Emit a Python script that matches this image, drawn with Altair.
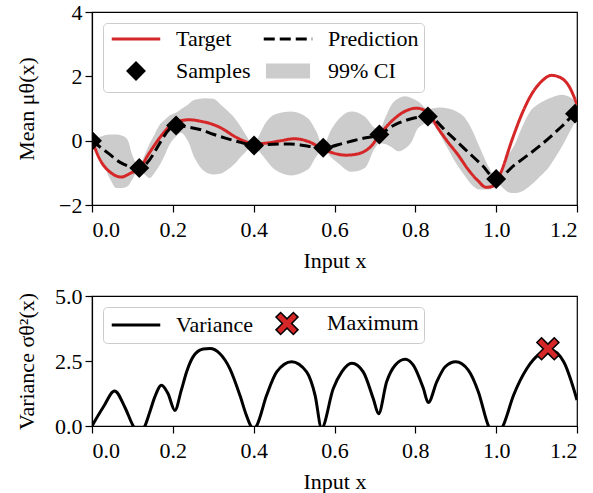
import math
import altair as alt
import pandas as pd

# ---------------- data ----------------
sample_x = [0.0, 0.117, 0.208, 0.401, 0.572, 0.711, 0.831, 1.0, 1.195]
sample_y = [0.0, -0.85, 0.47, -0.15, -0.22, 0.19, 0.75, -1.19, 0.84]

target_x = [0.00, 0.022, 0.047, 0.072, 0.097, 0.117, 0.142, 0.167, 0.192, 0.215,
            0.24, 0.27, 0.30, 0.32, 0.353, 0.378, 0.40, 0.435, 0.468, 0.50,
            0.534, 0.567, 0.596, 0.628, 0.65, 0.69, 0.712, 0.741, 0.774, 0.803,
            0.832, 0.856, 0.881, 0.905, 0.931, 0.956, 0.975, 0.995, 1.013, 1.038,
            1.063, 1.087, 1.112, 1.137, 1.162, 1.183, 1.20]
target_y = [0.00, -0.64, -1.00, -1.13, -1.00, -0.87, -0.38, 0.08, 0.44, 0.60,
            0.65, 0.60, 0.50, 0.39, 0.13, -0.02, -0.10, -0.07, 0.00, 0.06,
            -0.02, -0.23, -0.38, -0.45, -0.43, -0.18, 0.19, 0.60, 0.91, 1.01,
            0.86, 0.39, -0.05, -0.43, -0.90, -1.26, -1.45, -1.40, -0.95, -0.02,
            0.81, 1.43, 1.84, 2.03, 1.94, 1.63, 1.12]

pred_x = [0.0, 0.039, 0.072, 0.117, 0.208, 0.24, 0.27, 0.30, 0.33, 0.37,
          0.401, 0.435, 0.49, 0.535, 0.572, 0.625, 0.666, 0.711, 0.75, 0.79,
          0.831, 0.88, 0.93, 0.965, 1.0, 1.046, 1.112, 1.162, 1.195, 1.2]
pred_y = [0.0, -0.38, -0.69, -0.85, 0.47, 0.42, 0.34, 0.20, 0.08, -0.06,
          -0.15, -0.12, -0.10, -0.17, -0.22, -0.07, 0.06, 0.19, 0.50, 0.68,
          0.75, 0.24, -0.35, -0.76, -1.19, -0.75, -0.12, 0.44, 0.84, 0.88]

band_x = [0.000, 0.022, 0.045, 0.060, 0.075, 0.088, 0.100, 0.116, 0.130, 0.143,
          0.155, 0.168, 0.180, 0.192, 0.205, 0.220, 0.237, 0.254, 0.280, 0.300,
          0.320, 0.336, 0.353, 0.369, 0.380, 0.390, 0.400, 0.415, 0.427, 0.452,
          0.493, 0.534, 0.555, 0.572, 0.590, 0.609, 0.642, 0.675, 0.700, 0.712,
          0.725, 0.741, 0.757, 0.774, 0.790, 0.807, 0.832, 0.845, 0.861, 0.878,
          0.903, 0.920, 0.936, 0.960, 0.985, 1.000, 1.015, 1.030, 1.045, 1.063,
          1.084, 1.100, 1.113, 1.129, 1.145, 1.162, 1.187, 1.200]
band_upper = [0.02, 0.13, 0.19, 0.19, 0.15, 0.03, -0.45, -0.78, -0.45, -0.08,
              0.20, 0.50, 0.65, 0.78, 0.85, 0.98, 1.12, 1.27, 1.32, 1.30,
              1.10, 0.92, 0.70, 0.42, 0.19, 0.00, -0.12, 0.20, 0.50, 0.81,
              0.91, 0.70, 0.29, -0.18, 0.30, 0.65, 0.91, 0.75, 0.39, 0.35,
              0.70, 1.12, 1.30, 1.38, 1.33, 1.22, 0.98, 1.01, 1.03, 1.01,
              0.90, 0.75, 0.44, -0.23, -0.90, -1.15, -0.95, -0.45, -0.15, 0.39,
              0.91, 1.10, 1.20, 1.30, 1.38, 1.43, 1.32, 1.17]
band_lower = [-0.02, -0.54, -1.20, -1.47, -1.47, -1.42, -1.20, -0.90, -1.05, -1.16,
              -1.00, -0.75, -0.45, -0.12, 0.10, 0.25, 0.00, -0.54, -0.97, -1.05,
              -1.02, -0.90, -0.72, -0.49, -0.35, -0.22, -0.17, -0.35, -0.54, -0.90,
              -1.08, -0.90, -0.49, -0.25, -0.50, -0.70, -0.97, -0.85, -0.23, -0.08,
              -0.10, -0.20, -0.33, -0.25, -0.05, 0.39, 0.55, 0.50, 0.19, -0.20,
              -0.75, -1.05, -1.32, -1.52, -1.52, -1.27, -1.45, -1.60, -1.63, -1.58,
              -1.40, -1.22, -1.06, -0.85, -0.55, -0.20, 0.39, 0.70]

var_x = [0.000, 0.028, 0.056, 0.081, 0.102, 0.116, 0.131, 0.143, 0.155, 0.172,
         0.188, 0.205, 0.221, 0.234, 0.250, 0.275, 0.292, 0.316, 0.341, 0.366,
         0.382, 0.393, 0.401, 0.407, 0.432, 0.457, 0.494, 0.531, 0.552, 0.568,
         0.597, 0.618, 0.643, 0.671, 0.696, 0.709, 0.729, 0.750, 0.775, 0.795,
         0.820, 0.832, 0.853, 0.874, 0.900, 0.931, 0.956, 0.981, 1.000, 1.017,
         1.043, 1.076, 1.134, 1.167, 1.200]
var_y = [0.00, 0.73, 1.35, 0.73, 0.00, -0.30, 0.00, 0.54, 1.10, 1.57,
         1.25, 0.60, 1.38, 2.08, 2.66, 2.96, 2.98, 2.79, 2.21, 1.18,
         0.41, 0.00, -0.10, 0.00, 1.18, 2.08, 2.47, 2.08, 1.18, -0.08,
         1.44, 2.08, 2.41, 2.08, 1.05, 0.47, 1.70, 2.34, 2.57, 2.34,
         1.44, 0.90, 1.70, 2.28, 2.47, 2.15, 1.31, 0.00, -0.40, 0.00,
         1.18, 2.21, 2.92, 2.47, 1.00]

max_x = [1.128]
max_y = [2.97]

x_ticks = [0.0, 0.2, 0.4, 0.6, 0.8, 1.0, 1.2]
mean_ticks = [-2, 0, 2, 4]
var_ticks = [0.0, 2.5, 5.0]

top_domain = ["Target", "Prediction", "Samples", "99% CI"]
bottom_domain = ["Variance", "Maximum"]

# ---------------- styling ----------------
FONT = "Liberation Serif"
FS = 22
RED = "#d62728"
GRAY = "#cccccc"
SYM = 300  # symbol size -> unit radius sqrt(300)/2 = 8.66 px

LINE_PATH = "M-2.8,0L2.8,0"
DIAMOND_PATH = "M0,-1.15L1.15,0L0,1.15L-1.15,0Z"
RECT_PATH = "M-2.55,-0.87L2.55,-0.87L2.55,0.87L-2.55,0.87Z"


def x_path(t=0.38, L=1.42):
    pts = [(-t, -L), (t, -L), (t, -t), (L, -t), (L, t), (t, t),
           (t, L), (-t, L), (-t, t), (-L, t), (-L, -t), (-t, -t)]
    s = 1 / math.sqrt(2)
    rot = [((x - y) * s, (x + y) * s) for x, y in pts]
    return "M" + "L".join(f"{a:.3f},{b:.3f}" for a, b in rot) + "Z"


X_PATH = x_path()

df_band = pd.DataFrame({"x": band_x, "lo": band_lower, "hi": band_upper})
df_band["series"] = "99% CI"
df_target = pd.DataFrame({"x": target_x, "y": target_y})
df_target["series"] = "Target"
df_pred = pd.DataFrame({"x": pred_x, "y": pred_y})
df_pred["series"] = "Prediction"
df_samp = pd.DataFrame({"x": sample_x, "y": sample_y})
df_samp["series"] = "Samples"
df_var = pd.DataFrame({"x": var_x, "y": var_y})
df_var["series"] = "Variance"
df_max = pd.DataFrame({"x": max_x, "y": max_y})
df_max["series"] = "Maximum"

xscale = alt.Scale(domain=[0, 1.2], nice=False, zero=False)
x_axis = alt.Axis(title="Input x", values=x_ticks, format=".1f")
y_top_scale = alt.Scale(domain=[-2, 4], nice=False, zero=False)
y_top_axis = alt.Axis(title="Mean μθ(x)", values=mean_ticks, format="d",
                      minExtent=40, maxExtent=40)
y_bot_scale = alt.Scale(domain=[0, 5], nice=False, zero=False)
y_bot_axis = alt.Axis(title="Variance σθ²(x)", values=var_ticks, format=".1f",
                      minExtent=40, maxExtent=40)

legend_common = dict(
    title=None, orient="top-left", offset=11, columns=2, direction="horizontal",
    symbolSize=SYM, symbolOffset=17, labelOffset=29,
    columnPadding=6, rowPadding=5, padding=5,
    fillColor="rgba(255,255,255,0.8)", strokeColor="#cccccc", cornerRadius=4,
    labelFont=FONT, labelFontSize=FS, labelColor="black", labelLimit=300,
    symbolOpacity=1,
)
top_legend = alt.Legend(symbolStrokeWidth=3, **legend_common)
bottom_legend = alt.Legend(**legend_common)

# top panel scales (one legend: same domain on every channel)
t_fill = alt.Scale(domain=top_domain, range=["transparent", "transparent", "black", GRAY])
t_stroke = alt.Scale(domain=top_domain, range=[RED, "black", "transparent", "transparent"])
t_dash = alt.Scale(domain=top_domain, range=[[1, 0], [11, 5], [1, 0], [1, 0]])
t_shape = alt.Scale(domain=top_domain, range=[LINE_PATH, LINE_PATH, DIAMOND_PATH, RECT_PATH])

X = alt.X("x:Q", scale=xscale, axis=x_axis)
YT = alt.Y("y:Q", scale=y_top_scale, axis=y_top_axis)
YB = alt.Y("y:Q", scale=y_bot_scale, axis=y_bot_axis)

band = alt.Chart(df_band).mark_area(interpolate="monotone", clip=True, opacity=1).encode(
    x=X,
    y=alt.Y("lo:Q", scale=y_top_scale, axis=y_top_axis),
    y2="hi:Q",
    fill=alt.Fill("series:N", scale=t_fill, legend=top_legend),
)
target = alt.Chart(df_target).mark_line(interpolate="monotone", strokeWidth=3, clip=True).encode(
    x=X, y=YT,
    stroke=alt.Stroke("series:N", scale=t_stroke, legend=top_legend),
    strokeDash=alt.StrokeDash("series:N", scale=t_dash, legend=top_legend),
)
pred = alt.Chart(df_pred).mark_line(interpolate="monotone", strokeWidth=3, clip=True).encode(
    x=X, y=YT,
    stroke=alt.Stroke("series:N", scale=t_stroke, legend=top_legend),
    strokeDash=alt.StrokeDash("series:N", scale=t_dash, legend=top_legend),
)
samples = alt.Chart(df_samp).mark_point(filled=True, size=SYM, opacity=1, clip=True).encode(
    x=X, y=YT,
    fill=alt.Fill("series:N", scale=t_fill, legend=top_legend),
    shape=alt.Shape("series:N", scale=t_shape, legend=top_legend),
)
top = alt.layer(band, target, pred, samples).properties(width=485, height=193)

# bottom panel scales
b_fill = alt.Scale(domain=bottom_domain, range=["transparent", RED])
b_stroke = alt.Scale(domain=bottom_domain, range=["black", "black"])
b_shape = alt.Scale(domain=bottom_domain, range=[LINE_PATH, X_PATH])
b_width = alt.Scale(domain=bottom_domain, range=[3, 1.5])

var_line = alt.Chart(df_var).mark_line(interpolate="monotone", clip=True).encode(
    x=X, y=YB,
    stroke=alt.Stroke("series:N", scale=b_stroke, legend=bottom_legend),
    strokeWidth=alt.StrokeWidth("series:N", scale=b_width, legend=bottom_legend),
)
max_pt = alt.Chart(df_max).mark_point(filled=True, size=SYM, opacity=1).encode(
    x=X, y=YB,
    fill=alt.Fill("series:N", scale=b_fill, legend=bottom_legend),
    stroke=alt.Stroke("series:N", scale=b_stroke, legend=bottom_legend),
    shape=alt.Shape("series:N", scale=b_shape, legend=bottom_legend),
    strokeWidth=alt.StrokeWidth("series:N", scale=b_width, legend=bottom_legend),
)
bottom = alt.layer(var_line, max_pt).properties(width=485, height=130)

chart = alt.vconcat(top, bottom, spacing=12).resolve_scale(
    fill="independent", stroke="independent", shape="independent",
    strokeDash="independent", strokeWidth="independent",
).properties(
    padding={"left": 14, "top": 0, "right": 12, "bottom": 0}
).configure(
    font=FONT,
).configure_view(
    stroke="black", strokeWidth=1.2
).configure_axis(
    labelFont=FONT, labelFontSize=FS, labelColor="black",
    titleFont=FONT, titleFontSize=FS, titleFontWeight="normal", titleColor="black",
    domainColor="black", domainWidth=1.2, tickColor="black", tickWidth=1.2,
    tickSize=7, labelPadding=3, grid=False, titlePadding=14,
).configure_axisX(
    labelPadding=7, titlePadding=10,
).configure_legend(
    labelFont=FONT, labelFontSize=FS,
)

chart.save("out.html", embed_options={"renderer": "svg", "actions": False})
